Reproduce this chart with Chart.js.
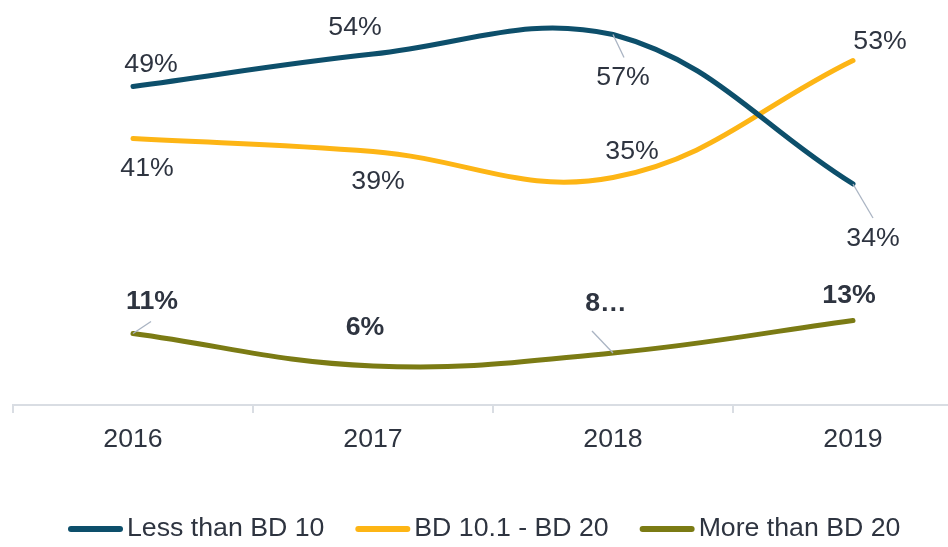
<!DOCTYPE html>
<html>
<head>
<meta charset="utf-8">
<script src="https://cdn.jsdelivr.net/npm/chart.js@4"></script>
<style>
  html, body { margin: 0; padding: 0; background: #fff; overflow: hidden; }
  #wrap { width: 973px; height: 547px; }
</style>
</head>
<body>
<div id="wrap"><canvas id="chartSpend"></canvas></div>
<script>
const years = ['2016', '2017', '2018', '2019'];
const lessThan10 = [49, 54, 57, 34];
const from10to20 = [41, 39, 35, 53];
const moreThan20 = [11, 6, 8, 13];
const seriesNames = ['Less than BD 10', 'BD 10.1 - BD 20', 'More than BD 20'];
// label text as printed on the chart (the 2018 one is cut off in the original)
const labelsLess = ['49%', '54%', '57%', '34%'];
const labelsMid = ['41%', '39%', '35%', '53%'];
const labelsMore = ['11%', '6%', '8…', '13%'];

const textColor = '#2e3440';
const fontName = 'Arial, "Liberation Sans", sans-serif';
const fontSize = 26.7;

// where each label sits relative to its point, and leader line end (if any)
const labelOffsets = [
    [[18, -22], [-18, -26], [10, 43], [20, 55]],
    [[14, 30], [5, 30], [19, -26], [27, -19]],
    [[19, -32], [-8, -38], [-7, -49], [-4, -25]]
];
const leaderEnds = [
    [null, null, [11, 23], [20, 34]],
    [null, null, null, null],
    [[18, -12], null, [-21, -22], null]
];

const pointLabels = {
    id: 'pointLabels',
    afterDatasetsDraw(chart) {
        const ctx = chart.ctx;
        chart.data.datasets.forEach((ds, i) => {
            const meta = chart.getDatasetMeta(i);
            meta.data.forEach((pt, j) => {
                const lead = leaderEnds[i][j];
                if (lead) {
                    ctx.save();
                    ctx.strokeStyle = '#aab4c3';
                    ctx.lineWidth = 1.3;
                    ctx.beginPath();
                    ctx.moveTo(pt.x, pt.y);
                    ctx.lineTo(pt.x + lead[0], pt.y + lead[1]);
                    ctx.stroke();
                    ctx.restore();
                }
                const off = labelOffsets[i][j];
                ctx.save();
                ctx.fillStyle = textColor;
                ctx.font = (ds.boldLabels ? 'bold ' : '') + fontSize + 'px ' + fontName;
                ctx.textAlign = 'center';
                ctx.textBaseline = 'middle';
                ctx.fillText(ds.pointText[j], pt.x + off[0], pt.y + off[1]);
                ctx.restore();
            });
        });
    }
};

// legend drawn by hand so the line sits close to its text like the original
const bottomLegend = {
    id: 'bottomLegend',
    afterDraw(chart) {
        const ctx = chart.ctx;
        let x = 68;
        const y = 529;
        ctx.save();
        ctx.font = fontSize + 'px ' + fontName;
        ctx.textBaseline = 'middle';
        ctx.textAlign = 'left';
        chart.data.datasets.forEach((ds) => {
            ctx.strokeStyle = ds.borderColor;
            ctx.lineWidth = 6;
            ctx.lineCap = 'round';
            ctx.beginPath();
            ctx.moveTo(x + 3, y);
            ctx.lineTo(x + 52, y);
            ctx.stroke();
            x += 59;
            ctx.fillStyle = textColor;
            ctx.fillText(ds.label, x, y);
            x += ctx.measureText(ds.label).width + 31;
        });
        ctx.restore();
    }
};

const chartSpend = document.getElementById('chartSpend');

let chart = new Chart(chartSpend, {
    type: 'line',
    data: {
        labels: years,
        datasets: [
            {
                label: seriesNames[0],
                data: lessThan10,
                pointText: labelsLess,
                borderColor: '#0d4f6b',
                backgroundColor: '#0d4f6b'
            },
            {
                label: seriesNames[1],
                data: from10to20,
                pointText: labelsMid,
                borderColor: '#fdb515',
                backgroundColor: '#fdb515'
            },
            {
                label: seriesNames[2],
                data: moreThan20,
                pointText: labelsMore,
                boldLabels: true,
                borderColor: '#7b7b14',
                backgroundColor: '#7b7b14'
            }
        ]
    },
    options: {
        responsive: true,
        maintainAspectRatio: false,
        animation: false,
        layout: {
            padding: { left: 13, top: 15, right: 0, bottom: 80 }
        },
        elements: {
            line: { borderWidth: 5, tension: 0.4, borderCapStyle: 'round', borderJoinStyle: 'round' },
            point: { radius: 0, hoverRadius: 0 }
        },
        scales: {
            x: {
                offset: true,
                border: { display: true, color: '#d9dde3', width: 2 },
                grid: {
                    offset: true,
                    drawOnChartArea: false,
                    drawTicks: true,
                    tickLength: 8,
                    color: '#d9dde3',
                    lineWidth: 2
                },
                ticks: {
                    color: textColor,
                    padding: 11,
                    font: { family: fontName, size: fontSize }
                }
            },
            y: {
                display: false,
                min: 0,
                max: 60
            }
        },
        plugins: {
            legend: { display: false },
            tooltip: { enabled: false }
        }
    },
    plugins: [pointLabels, bottomLegend]
});
</script>
</body>
</html>
